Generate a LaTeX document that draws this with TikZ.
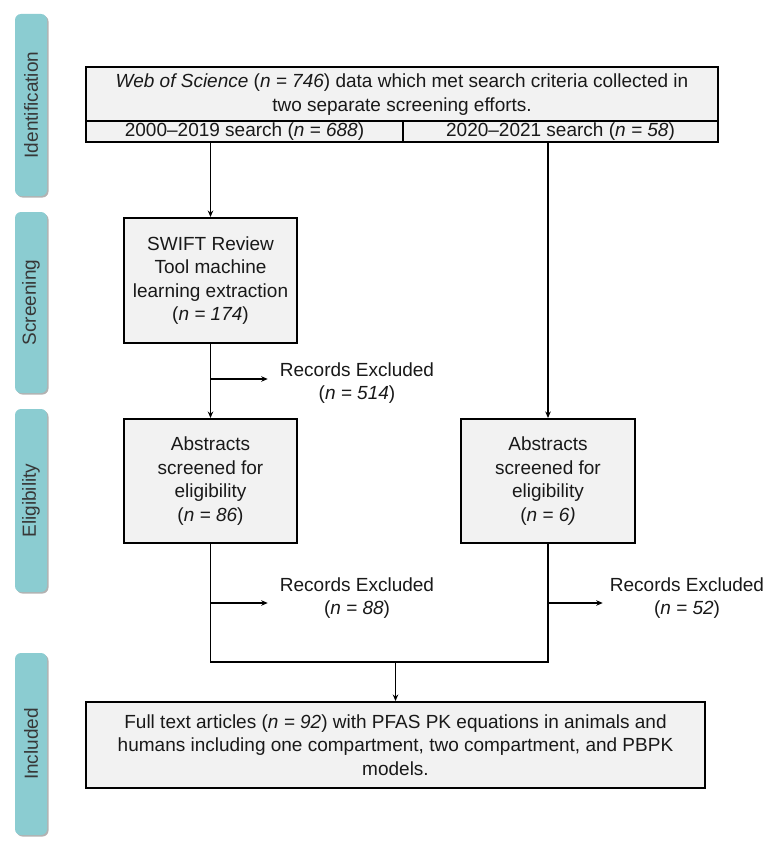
\documentclass[tikz,border=0pt]{standalone}
\usepackage{fontspec}
\setmainfont{Liberation Sans}
\usetikzlibrary{arrows.meta,shadows}
\definecolor{phasefill}{RGB}{139,204,209}
\definecolor{boxfill}{RGB}{242,242,242}
\definecolor{phasetext}{RGB}{55,55,55}
\definecolor{ink}{RGB}{25,25,25}
\begin{document}
\begin{tikzpicture}[x=1pt,y=-1pt,
  font=\fontsize{19}{23.5}\selectfont,
  box/.style={draw=black, line width=2pt, fill=boxfill, align=center, inner sep=0pt, text=ink},
  phase/.style={fill=phasefill, rounded corners=6pt, minimum width=32pt, inner sep=0pt,
    drop shadow={shadow xshift=1.5pt, shadow yshift=-1.5pt, opacity=0.3, fill=black}},
  phaselabel/.style={rotate=90, text=phasetext, inner sep=0pt},
  rec/.style={align=center, inner ysep=0pt, text=ink},
  link/.style={line width=1.8pt, draw=black},
  arr/.style={link, -{Stealth[length=6.5pt,width=5.5pt]}}
]
\path[use as bounding box, fill=white] (0,0) rectangle (773,848);

% phase labels
\node[phase, minimum height=182pt] (ph1) at (31,105) {};
\node[phaselabel] (ph1t) at (ph1) {Identification};
\node[phase, minimum height=181pt] (ph2) at (31,302.5) {};
\node[phaselabel] (ph2t) at (ph2) {Screening};
\node[phase, minimum height=183pt] (ph3) at (31,500.5) {};
\node[phaselabel] (ph3t) at (ph3) {Eligibility};
\node[phase, minimum height=182pt] (ph4) at (31,744) {};
\node[phaselabel] (ph4t) at (ph4) {Included};

% top box
\node[box, minimum width=632pt, minimum height=54pt] (top1) at (402,94.5)
  {\textit{Web of Science} (\textit{n = 746}) data which met search criteria collected in\\two separate screening efforts.};
\node[box, minimum width=317pt, minimum height=21pt] (top2a) at (244.5,131.5)
  {2000--2019 search (\textit{n = 688})};
\node[box, minimum width=315pt, minimum height=21pt] (top2b) at (560.5,131.5)
  {2020--2021 search (\textit{n = 58})};

% process boxes
\node[box, minimum width=173pt, minimum height=125pt] (swift) at (210.5,280.5)
  {SWIFT Review\\Tool machine\\learning extraction\\(\textit{n = 174})};
\node[box, minimum width=173pt, minimum height=124pt] (absL) at (210.5,481)
  {Abstracts\\screened for\\eligibility\\(\textit{n = 86})};
\node[box, minimum width=174pt, minimum height=124pt] (absR) at (548,481)
  {Abstracts\\screened for\\eligibility\\(\textit{n = 6)}};
\node[box, minimum width=619pt, minimum height=86pt] (full) at (395.5,745)
  {Full text articles (\textit{n = 92}) with PFAS PK equations in animals and\\humans including one compartment, two compartment, and PBPK\\models.};

% exclusion labels
\node[rec, inner xsep=12pt] (rec1) at (357,383) {Records Excluded\\(\textit{n = 514})};
\node[rec, inner xsep=12pt] (rec2) at (357,598) {Records Excluded\\(\textit{n = 88})};
\node[rec, inner xsep=7pt] (rec3) at (687,598) {Records Excluded\\(\textit{n = 52})};

% connectors
\draw[arr] (top2a.south -| swift.north) -- (swift.north);
\draw[arr] (top2b.south -| absR.north) -- (absR.north);
\draw[arr] (swift.south) -- (absL.north);

\coordinate (b1) at (210.5,379);
\coordinate (b2) at (210.5,603);
\coordinate (b3) at (548,603);
\draw[arr] (b1) -- (b1 -| rec1.west);
\draw[arr] (b2) -- (b2 -| rec2.west);
\draw[arr] (b3) -- (b3 -| rec3.west);

\coordinate (mL) at (210.5,662);
\coordinate (mR) at (548,662);
\coordinate (mC) at (full.north |- mL);
\draw[link] (absL.south) -- (mL) -- (mR) -- (absR.south);
\draw[arr] (mC) -- (full.north);
\end{tikzpicture}
\end{document}
